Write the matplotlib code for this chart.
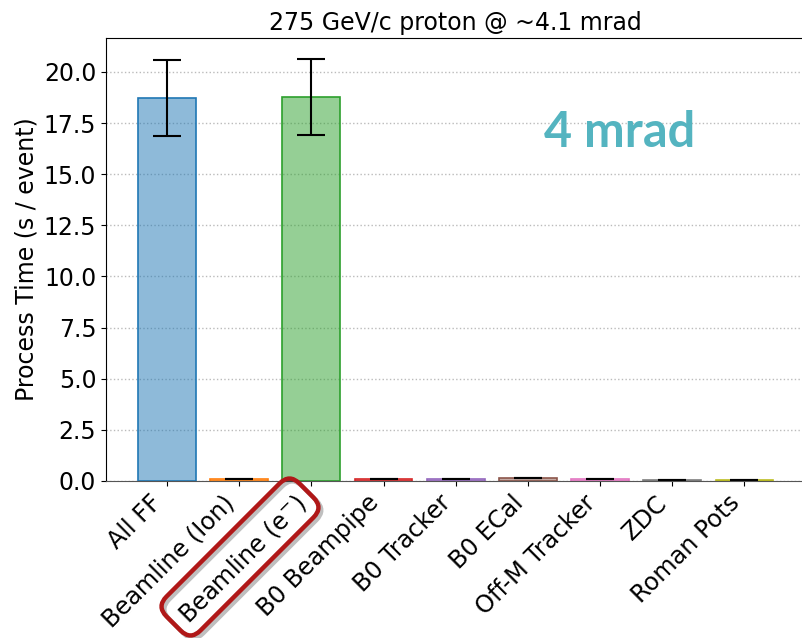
import matplotlib
matplotlib.use("Agg")
import matplotlib.pyplot as plt
import matplotlib.transforms as mtransforms
from matplotlib.patches import FancyBboxPatch
from matplotlib import patheffects
import numpy as np

# Per-subsystem processing time, 275 GeV/c proton at ~4.1 mrad crossing
labels = ["All FF", "Beamline (Ion)", r"Beamline ($\mathrm{e}^{-}$)", "B0 Beampipe",
          "B0 Tracker", "B0 ECal", "Off-M Tracker", "ZDC", "Roman Pots"]
times = [18.72, 0.09, 18.77, 0.09, 0.09, 0.14, 0.09, 0.05, 0.06]
errors = [1.86, 0.01, 1.86, 0.01, 0.01, 0.01, 0.01, 0.01, 0.01]
colors = ["tab:blue", "tab:orange", "tab:green", "tab:red", "tab:purple",
          "tab:brown", "tab:pink", "tab:gray", "tab:olive"]

DPI = 100
FS = 17
fig = plt.figure(figsize=(8.03, 6.38), dpi=DPI)
ax = fig.add_axes([0.132, 0.2461, 0.8705, 0.6943])

x = np.arange(len(labels))
for i in x:
    ax.bar(x[i], times[i], width=0.8, color=colors[i], alpha=0.5)
    ax.bar(x[i], times[i], width=0.8, fill=False, edgecolor=colors[i], lw=1.2)
ax.errorbar(x, times, yerr=errors, fmt="none", ecolor="black",
            capsize=10, elinewidth=1.5, capthick=1.5)

ax.set_ylim(0, 21.66)
ax.set_xlim(-0.845, 8.84)
ax.set_yticks(np.arange(0, 20.1, 2.5))
ax.yaxis.grid(True, linestyle=":", color="#bbbbbb", lw=1)
ax.set_axisbelow(True)
ax.set_xticks(x)
ax.set_xticklabels(labels, rotation=45, ha="right", fontsize=17.3)
ax.tick_params(axis="y", labelsize=FS)
ax.spines["bottom"].set_color("#555555")
ax.set_ylabel("Process Time (s / event)", fontsize=FS)
ax.set_title("275 GeV/c proton @ ~4.1 mrad", fontsize=FS)

fig.text(0.772, 0.793, "4 mrad", fontsize=35, fontweight="bold",
         family="Lato", color="#54B4C0", ha="center", va="center")

# rounded highlight around the electron-beamline label
cx, cy = 240, 638 - 557
w, h = 188, 48
px_to_in = mtransforms.Affine2D().scale(1.0 / DPI)
rot = mtransforms.Affine2D().rotate_deg_around(cx, cy, 45)
box = FancyBboxPatch((cx - w / 2, cy - h / 2), w, h,
                     boxstyle="round,pad=0,rounding_size=14",
                     fill=False, edgecolor="#B01818", lw=3.2,
                     transform=rot + px_to_in + fig.dpi_scale_trans,
                     clip_on=False)
box.set_path_effects([patheffects.SimpleLineShadow(offset=(2, -2), alpha=0.25),
                      patheffects.Normal()])
fig.add_artist(box)

fig.savefig("out.png", dpi=DPI)
